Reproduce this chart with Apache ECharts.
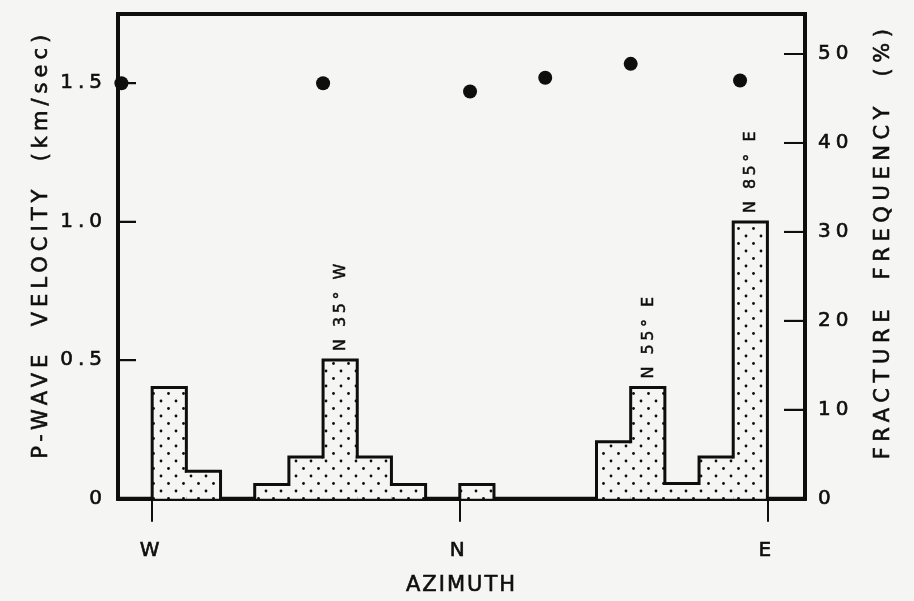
<!DOCTYPE html>
<html>
<head>
<meta charset="utf-8">
<script src="https://cdn.jsdelivr.net/npm/echarts@6/dist/echarts.min.js"></script>
<style>
  html, body { margin: 0; padding: 0; background: #f5f5f3; }
  #chart { width: 914px; height: 601px; }
</style>
</head>
<body>
<div id="chart"></div>
<script>
// Azimuth in degrees: W = -90, N = 0, E = 90
const azimuthTicks = [-90, 0, 90];
const azimuthLabels = ['W', 'N', 'E'];
const azimuthMin = -100, azimuthMax = 101;

// Fracture frequency (%) in 10-degree azimuth bins, keyed by bin start
const binStart = [-90, -80, -60, -50, -40, -30, -20, 0, 40, 50, 60, 70, 80];
const binWidth = 10;
const fractureFreq = [12.5, 3.1, 1.6, 4.7, 15.6, 4.7, 1.6, 1.6, 6.4, 12.5, 1.7, 4.7, 31.1];
// Strike of the main fracture sets
const peakLabels = ['', '', '', '', 'N 35° W', '', '', '', '', 'N 55° E', '', '', 'N 85° E'];

// P-wave velocity (km/sec) measured along several azimuths
const velAzimuth = [-99, -40, 3, 25, 50, 82];
const velocity = [1.50, 1.50, 1.47, 1.52, 1.57, 1.51];

// Axis tick values
const velTicks = [0, 0.5, 1.0, 1.5];
const freqTicks = [0, 10, 20, 30, 40, 50];

const INK = '#0e0e0e';
const PAPER = '#f5f5f3';
const FONT = 'DejaVu Sans';
// A thin outline on every glyph gives the heavier pen-lettered stroke
const PEN = { textBorderColor: INK, textBorderWidth: 0.6 };

// Hand-lettered look: wider letter spacing for the axis titles and strike labels
const letterGap = {
  'P-WAVE  VELOCITY  (km/sec)': 5,
  'FRACTURE  FREQUENCY  (%)': 5.6,
  'AZIMUTH': 2,
  'N 35° W': 3.5, 'N 55° E': 3.5, 'N 85° E': 3.5
};
['fillText', 'strokeText'].forEach(function (fn) {
  const draw = CanvasRenderingContext2D.prototype[fn];
  CanvasRenderingContext2D.prototype[fn] = function (text, x, y, maxWidth) {
    const gap = letterGap[text];
    if (!gap || !('letterSpacing' in this)) {
      return maxWidth === undefined ? draw.call(this, text, x, y) : draw.call(this, text, x, y, maxWidth);
    }
    const prev = this.letterSpacing;
    this.letterSpacing = gap + 'px';
    draw.call(this, text, x, y);
    this.letterSpacing = prev;
  };
});

// Stipple tile used to fill the histogram
const tile = document.createElement('canvas');
tile.width = 15; tile.height = 15;
(function () {
  const g = tile.getContext('2d');
  g.fillStyle = PAPER;
  g.fillRect(0, 0, 15, 15);
  g.fillStyle = INK;
  [[3.5, 3.5], [11, 11]].forEach(function (p) {
    g.beginPath(); g.arc(p[0], p[1], 1.4, 0, Math.PI * 2); g.fill();
  });
})();
const stipple = { image: tile, repeat: 'repeat' };

// Each histogram bin knows its neighbours so only the outer outline is stroked
function neighbourFreq(start) {
  const k = binStart.indexOf(start);
  return k < 0 ? 0 : fractureFreq[k];
}
const histData = binStart.map(function (s, i) {
  return [s, s + binWidth, fractureFreq[i], neighbourFreq(s - binWidth), neighbourFreq(s + binWidth), i];
});

function renderBin(params, api) {
  const x0 = api.value(0), x1 = api.value(1), h = api.value(2);
  const hl = api.value(3), hr = api.value(4), idx = api.value(5);
  const bl = api.coord([x0, 0]);
  const tr = api.coord([x1, h]);
  const yl = Math.max(api.coord([x0, hl])[1], tr[1]);
  const yr = Math.max(api.coord([x1, hr])[1], tr[1]);
  const children = [
    { type: 'rect', shape: { x: bl[0], y: tr[1], width: tr[0] - bl[0], height: bl[1] - tr[1] },
      style: { fill: stipple, stroke: null } },
    { type: 'polyline', shape: { points: [[bl[0], yl], [bl[0], tr[1]], [tr[0], tr[1]], [tr[0], yr]] },
      style: { fill: null, stroke: INK, lineWidth: 3, lineJoin: 'miter', lineCap: 'square' } }
  ];
  const label = peakLabels[idx];
  if (label) {
    children.push({
      type: 'text', x: (bl[0] + tr[0]) / 2 + 1, y: tr[1] - 9, rotation: Math.PI / 2,
      style: { text: label, fill: INK, font: '16px "' + FONT + '"', align: 'left', verticalAlign: 'middle',
               stroke: INK, lineWidth: 0.5 }
    });
  }
  return { type: 'group', children: children };
}

const tickStyle = { color: INK, width: 2 };
const frameLine = { show: true, onZero: false, lineStyle: { color: INK, width: 4 } };
const labelFont = Object.assign({ fontSize: 20, color: INK, fontFamily: FONT }, PEN);
const nameFont = Object.assign({ fontSize: 21, color: INK, fontFamily: FONT }, PEN);

const chart = echarts.init(document.getElementById('chart'), null, { renderer: 'canvas', devicePixelRatio: 1 });

chart.setOption({
  animation: false,
  backgroundColor: PAPER,
  textStyle: { fontFamily: FONT, color: INK },
  grid: { left: 118, right: 109, top: 14, bottom: 102, show: true, borderWidth: 4, borderColor: INK, backgroundColor: 'transparent' },
  xAxis: {
    type: 'value', min: azimuthMin, max: azimuthMax,
    axisLine: frameLine,
    splitLine: { show: false },
    axisTick: { show: true, inside: false, length: 23, customValues: azimuthTicks, lineStyle: tickStyle },
    axisLabel: Object.assign({
      customValues: azimuthTicks, margin: 42,
      formatter: function (v) { return azimuthLabels[azimuthTicks.indexOf(v)]; }
    }, labelFont),
    name: 'AZIMUTH', nameLocation: 'middle', nameGap: 76,
    nameTextStyle: nameFont
  },
  yAxis: [
    {
      type: 'value', position: 'left', min: 0, max: 1.75,
      axisLine: frameLine,
      splitLine: { show: false },
      axisTick: { show: true, inside: true, length: 18, customValues: [0.5, 1.0, 1.5], lineStyle: tickStyle },
      axisLabel: Object.assign({
        customValues: velTicks, margin: 11,
        formatter: function (v) { return v === 0 ? '0' : v.toFixed(1); }
      }, labelFont),
      name: 'P-WAVE  VELOCITY  (km/sec)', nameLocation: 'middle', nameGap: 66, nameRotate: 90,
      nameTextStyle: Object.assign({ padding: [0, 0, 0, 24] }, nameFont)
    },
    {
      type: 'value', position: 'right', min: 0, max: 54.5,
      axisLine: frameLine,
      splitLine: { show: false },
      axisTick: { show: true, inside: true, length: 21, customValues: [10, 20, 30, 40, 50], lineStyle: tickStyle },
      axisLabel: Object.assign({ customValues: freqTicks, margin: 13 }, labelFont),
      name: 'FRACTURE  FREQUENCY  (%)', nameLocation: 'middle', nameGap: 68, nameRotate: 90,
      nameTextStyle: Object.assign({ padding: [0, 0, 0, 30] }, nameFont)
    }
  ],
  series: [
    {
      type: 'custom', name: 'Fracture frequency', coordinateSystem: 'cartesian2d',
      xAxisIndex: 0, yAxisIndex: 1, renderItem: renderBin, data: histData, z: 2
    },
    {
      type: 'scatter', name: 'P-wave velocity', xAxisIndex: 0, yAxisIndex: 0,
      symbol: 'circle', symbolSize: 14, itemStyle: { color: INK, opacity: 1 },
      data: velAzimuth.map(function (a, i) { return [a, velocity[i]]; }), z: 5
    }
  ]
});

// Inward tick marks on the two value axes, positioned through each axis' scale
function tickMark(axisIndex, edge, value, length) {
  const p = chart.convertToPixel({ xAxisIndex: 0, yAxisIndex: axisIndex }, [edge, value]);
  return {
    type: 'line', z: 100, silent: true,
    shape: { x1: p[0], y1: p[1], x2: p[0] + length, y2: p[1] },
    style: { stroke: INK, lineWidth: 2 }
  };
}
const tickMarks = [];
velTicks.forEach(function (v) { if (v > 0) tickMarks.push(tickMark(0, azimuthMin, v, 18)); });
freqTicks.forEach(function (v) { if (v > 0) tickMarks.push(tickMark(1, azimuthMax, v, -21)); });
chart.setOption({ graphic: { elements: tickMarks } });
</script>
</body>
</html>
